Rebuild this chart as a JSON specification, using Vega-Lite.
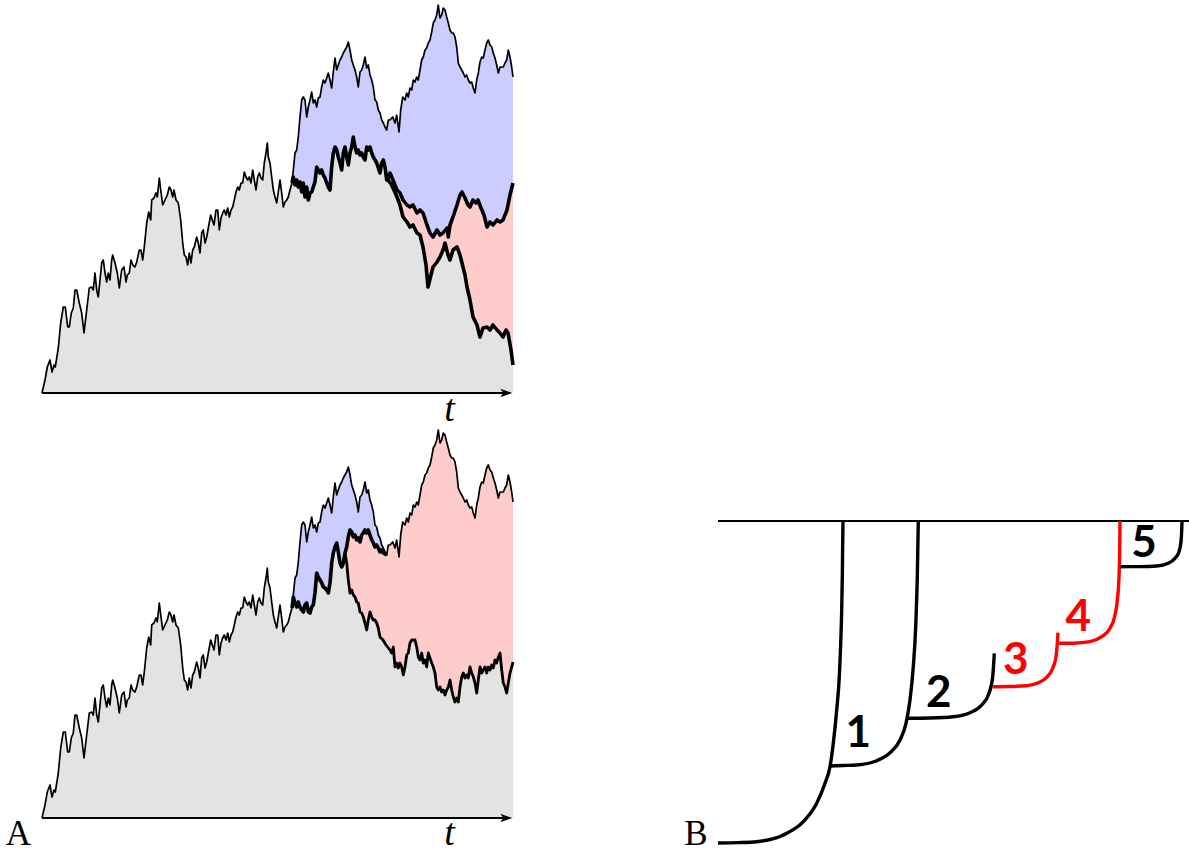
{
  "$schema": "https://vega.github.io/schema/vega-lite/v6.json",
  "width": 1189,
  "height": 854,
  "autosize": {"type": "none"},
  "padding": 0,
  "background": "white",
  "config": {"view": {"stroke": null}},
  "datasets": {
    "p0": [
      {"t":0,"w":0},{"t":3,"w":13},{"t":5.3,"w":26},{"t":8,"w":33},{"t":10,"w":21},{"t":12,"w":28},{"t":13.3,"w":26},{"t":16.3,"w":45},{"t":18.7,"w":70},{"t":21.3,"w":86},
      {"t":23.3,"w":86},{"t":25.7,"w":66},{"t":27.3,"w":66},{"t":29.3,"w":80},{"t":31.3,"w":85},{"t":33,"w":103},{"t":34.7,"w":103},{"t":37.3,"w":90},{"t":39.7,"w":80},{"t":42,"w":60},
      {"t":44.7,"w":83},{"t":47.3,"w":105},{"t":49.7,"w":106},{"t":51.3,"w":103},{"t":53,"w":120},{"t":54.7,"w":103},{"t":56.3,"w":96},{"t":58,"w":113},{"t":59.7,"w":130},{"t":61.3,"w":133},
      {"t":63,"w":120},{"t":64.7,"w":111},{"t":66.3,"w":120},{"t":68,"w":113},{"t":69.7,"w":133},{"t":70.7,"w":138},{"t":73,"w":130},{"t":75.3,"w":120},{"t":77.3,"w":105},{"t":79.7,"w":123},
      {"t":82,"w":126},{"t":84,"w":111},{"t":85.3,"w":118},{"t":87.3,"w":120},{"t":89,"w":133},{"t":90.7,"w":128},{"t":93,"w":126},{"t":94.7,"w":131},{"t":97.3,"w":143},{"t":99,"w":143},
      {"t":100.7,"w":133},{"t":102.3,"w":146},{"t":104.7,"w":170},{"t":106.7,"w":181},{"t":108.7,"w":173},{"t":109.7,"w":193},{"t":112,"w":195},{"t":114,"w":200},{"t":115.3,"w":196},{"t":117.3,"w":215},
      {"t":119,"w":201},{"t":120.7,"w":188},{"t":123,"w":193},{"t":125.3,"w":198},{"t":127.3,"w":206},{"t":129,"w":203},{"t":130.7,"w":196},{"t":132,"w":203},{"t":134,"w":193},{"t":136.3,"w":190},
      {"t":138.7,"w":173},{"t":140.7,"w":150},{"t":142.3,"w":138},{"t":144,"w":136},{"t":145.7,"w":128},{"t":147.3,"w":140},{"t":149,"w":130},{"t":150.7,"w":143},{"t":152.3,"w":146},{"t":154.7,"w":156},
      {"t":156.3,"w":150},{"t":158,"w":140},{"t":159.7,"w":160},{"t":161.3,"w":163},{"t":163,"w":150},{"t":164.7,"w":156},{"t":166.3,"w":165},{"t":168.7,"w":178},{"t":170.3,"w":173},{"t":172,"w":168},
      {"t":174,"w":183},{"t":175.7,"w":183},{"t":177.3,"w":163},{"t":179,"w":175},{"t":180.7,"w":180},{"t":182.3,"w":183},{"t":184,"w":178},{"t":185.7,"w":185},{"t":187.3,"w":176},{"t":189,"w":183},
      {"t":190.7,"w":186},{"t":192.3,"w":193},{"t":194,"w":201},{"t":195.7,"w":206},{"t":197.3,"w":203},{"t":199,"w":210},{"t":200.7,"w":210},{"t":202.3,"w":221},{"t":204,"w":216},{"t":205.7,"w":213},
      {"t":207.3,"w":216},{"t":209,"w":210},{"t":210.7,"w":223},{"t":212.3,"w":213},{"t":214,"w":203},{"t":215.7,"w":216},{"t":217.3,"w":220},{"t":219,"w":215},{"t":220.7,"w":213},{"t":222.3,"w":230},
      {"t":224,"w":240},{"t":225.3,"w":250},{"t":226.3,"w":236},{"t":228,"w":230},{"t":229.7,"w":216},{"t":231.3,"w":203},{"t":233,"w":196},{"t":234.7,"w":190},{"t":236.3,"w":201},{"t":238,"w":213},
      {"t":239.7,"w":200},{"t":241.3,"w":186},{"t":243,"w":191},{"t":244.7,"w":193},{"t":246.3,"w":196},{"t":248,"w":203},{"t":250,"w":210}
    ],
    "up": [
      {"t":250,"w":210},{"t":251.3,"w":223},{"t":253,"w":240},{"t":254.7,"w":243},{"t":256.3,"w":256},{"t":258,"w":276},{"t":259.7,"w":293},{"t":261.3,"w":296},{"t":263,"w":293},{"t":264.7,"w":276},
      {"t":266.3,"w":286},{"t":268,"w":293},{"t":269.7,"w":301},{"t":271.3,"w":290},{"t":273,"w":293},{"t":274.7,"w":286},{"t":276.3,"w":295},{"t":278,"w":296},{"t":279.7,"w":306},{"t":281.3,"w":313},
      {"t":283,"w":310},{"t":284.7,"w":315},{"t":286.3,"w":320},{"t":288,"w":313},{"t":289.7,"w":305},{"t":291.3,"w":321},{"t":293,"w":335},{"t":294.7,"w":323},{"t":296.3,"w":328},{"t":298,"w":333},
      {"t":299.7,"w":336},{"t":301.3,"w":340},{"t":303,"w":343},{"t":304.7,"w":346},{"t":306.3,"w":351},{"t":308,"w":343},{"t":309.7,"w":333},{"t":311.3,"w":328},{"t":313,"w":323},{"t":314.7,"w":316},
      {"t":316.3,"w":306},{"t":318,"w":321},{"t":319.7,"w":323},{"t":321.3,"w":328},{"t":323,"w":336},{"t":324.7,"w":325},{"t":326.3,"w":328},{"t":328,"w":318},{"t":329.7,"w":313},{"t":331.3,"w":306},
      {"t":333,"w":293},{"t":334.7,"w":291},{"t":336.3,"w":283},{"t":338,"w":280},{"t":339.7,"w":273},{"t":341.3,"w":270},{"t":343,"w":266},{"t":344.7,"w":263},{"t":346.3,"w":273},{"t":348,"w":273},
      {"t":350.7,"w":276},{"t":353,"w":270},{"t":354.7,"w":278},{"t":357,"w":261},{"t":358.7,"w":283},{"t":360.7,"w":296},{"t":363,"w":293},{"t":364.7,"w":300},{"t":366.3,"w":296},{"t":368,"w":305},
      {"t":369.7,"w":303},{"t":371.3,"w":313},{"t":373,"w":311},{"t":374.7,"w":316},{"t":376.3,"w":313},{"t":378,"w":323},{"t":379.7,"w":333},{"t":381.3,"w":336},{"t":383,"w":343},{"t":384.7,"w":345},
      {"t":386.3,"w":350},{"t":388,"w":353},{"t":389.7,"w":361},{"t":391.3,"w":370},{"t":393,"w":373},{"t":394.7,"w":378},{"t":396.3,"w":388},{"t":398,"w":375},{"t":399.7,"w":378},{"t":401.3,"w":385},
      {"t":403,"w":383},{"t":404.7,"w":376},{"t":406.3,"w":370},{"t":408,"w":363},{"t":409.7,"w":360},{"t":411.3,"w":360},{"t":413,"w":356},{"t":414.7,"w":346},{"t":416.3,"w":330},{"t":418,"w":326},
      {"t":419.7,"w":323},{"t":421.3,"w":320},{"t":423,"w":316},{"t":424.7,"w":318},{"t":426.3,"w":313},{"t":428,"w":310},{"t":429.7,"w":311},{"t":431.3,"w":305},{"t":433,"w":300},{"t":434.7,"w":313},
      {"t":436.3,"w":320},{"t":438,"w":331},{"t":439.7,"w":336},{"t":441.3,"w":335},{"t":443,"w":343},{"t":444.7,"w":350},{"t":446.3,"w":353},{"t":448,"w":348},{"t":449.7,"w":346},{"t":451.3,"w":340},
      {"t":453,"w":335},{"t":454.7,"w":328},{"t":456.3,"w":320},{"t":458,"w":326},{"t":459.7,"w":326},{"t":461.3,"w":326},{"t":463,"w":330},{"t":464.7,"w":333},{"t":466.3,"w":343},{"t":468,"w":336},
      {"t":469.7,"w":326},{"t":471,"w":316}
    ],
    "mid": [
      {"t":250,"w":210},{"t":251.3,"w":216},{"t":253,"w":208},{"t":254.7,"w":213},{"t":256.3,"w":206},{"t":258,"w":211},{"t":259.7,"w":201},{"t":261.3,"w":210},{"t":263,"w":196},{"t":264.7,"w":206},
      {"t":266.3,"w":193},{"t":268,"w":200},{"t":269.7,"w":201},{"t":271.3,"w":206},{"t":273,"w":211},{"t":274.7,"w":226},{"t":276.3,"w":223},{"t":278,"w":220},{"t":279.7,"w":223},{"t":281.3,"w":218},
      {"t":283,"w":215},{"t":284.7,"w":210},{"t":286.3,"w":206},{"t":288,"w":203},{"t":289.7,"w":226},{"t":291.3,"w":240},{"t":293,"w":246},{"t":294.7,"w":243},{"t":296.3,"w":236},{"t":298,"w":230},
      {"t":299.7,"w":223},{"t":301.3,"w":240},{"t":303,"w":246},{"t":304.7,"w":236},{"t":306.3,"w":228},{"t":308,"w":240},{"t":309.7,"w":246},{"t":311.3,"w":256},{"t":313,"w":246},{"t":314.7,"w":240},
      {"t":316.3,"w":243},{"t":318,"w":238},{"t":319.7,"w":240},{"t":321.3,"w":236},{"t":323,"w":233},{"t":324.7,"w":246},{"t":326.3,"w":243},{"t":328,"w":246},{"t":329.7,"w":240},{"t":331.3,"w":236},
      {"t":333,"w":233},{"t":334.7,"w":230},{"t":336.3,"w":225},{"t":338,"w":220},{"t":339.7,"w":230},{"t":341.3,"w":233},{"t":343,"w":226},{"t":344.7,"w":213},{"t":346,"w":213},{"t":348,"w":220},
      {"t":351,"w":213},{"t":355,"w":203},{"t":358,"w":200},{"t":361,"w":193},{"t":365,"w":188},{"t":368,"w":186},{"t":371,"w":188},{"t":375,"w":180},{"t":378,"w":183},{"t":381,"w":180},
      {"t":385,"w":168},{"t":388,"w":160},{"t":391,"w":156},{"t":395,"w":163},{"t":398,"w":158},{"t":401,"w":160},{"t":405,"w":165},{"t":406.3,"w":156},{"t":408,"w":168},{"t":411,"w":176},
      {"t":415,"w":188},{"t":418,"w":198},{"t":420,"w":201},{"t":423,"w":195},{"t":426,"w":188},{"t":428,"w":186},{"t":431,"w":193},{"t":434,"w":190},{"t":436,"w":193},{"t":439,"w":185},
      {"t":442,"w":178},{"t":445,"w":166},{"t":448,"w":171},{"t":451,"w":168},{"t":455,"w":173},{"t":458,"w":171},{"t":461,"w":173},{"t":465,"w":183},{"t":468,"w":198},{"t":471,"w":210}
    ],
    "low": [
      {"t":346,"w":213},{"t":349,"w":209},{"t":351,"w":205},{"t":355,"w":196},{"t":358,"w":188},{"t":361,"w":176},{"t":365,"w":171},{"t":368,"w":166},{"t":371,"w":168},{"t":375,"w":160},
      {"t":378,"w":158},{"t":381,"w":146},{"t":384,"w":128},{"t":386,"w":106},{"t":389,"w":118},{"t":391,"w":126},{"t":395,"w":131},{"t":398,"w":136},{"t":401,"w":143},{"t":403,"w":150},
      {"t":406,"w":138},{"t":408,"w":133},{"t":411,"w":143},{"t":415,"w":146},{"t":418,"w":138},{"t":420,"w":130},{"t":423,"w":118},{"t":425,"w":106},{"t":428,"w":93},{"t":431,"w":76},
      {"t":435,"w":68},{"t":438,"w":56},{"t":441,"w":65},{"t":445,"w":66},{"t":448,"w":63},{"t":451,"w":68},{"t":455,"w":63},{"t":458,"w":60},{"t":461,"w":56},{"t":464,"w":63},
      {"t":466,"w":60},{"t":469,"w":43},{"t":471,"w":28}
    ],
    "nb": [
      {"t":250,"w":210},{"t":251.3,"w":221},{"t":253,"w":215},{"t":254.7,"w":211},{"t":256.3,"w":216},{"t":258,"w":211},{"t":259.7,"w":208},{"t":261.3,"w":206},{"t":263,"w":213},{"t":264.7,"w":215},
      {"t":266.3,"w":206},{"t":268,"w":205},{"t":269.7,"w":211},{"t":271.3,"w":213},{"t":273,"w":225},{"t":274.7,"w":245},{"t":276.3,"w":241},{"t":278,"w":238},{"t":279.7,"w":235},{"t":281.3,"w":231},
      {"t":283,"w":230},{"t":284.7,"w":228},{"t":286.3,"w":225},{"t":288,"w":235},{"t":289.7,"w":255},{"t":291.3,"w":265},{"t":293,"w":271},{"t":294.7,"w":275},{"t":296.3,"w":266},{"t":298,"w":255},
      {"t":299.7,"w":251},{"t":301.3,"w":255},{"t":303,"w":265},{"t":304.7,"w":271},{"t":306.3,"w":281},{"t":308,"w":288},{"t":309.7,"w":286},{"t":311.3,"w":281},{"t":313,"w":283},{"t":314.7,"w":278},
      {"t":316.3,"w":280},{"t":318,"w":276},{"t":319.7,"w":283},{"t":321.3,"w":285},{"t":323,"w":288},{"t":324.7,"w":285},{"t":326.3,"w":288},{"t":328,"w":283},{"t":329.7,"w":278},{"t":331.3,"w":275},
      {"t":333,"w":271},{"t":334.7,"w":273},{"t":336.3,"w":270},{"t":338,"w":266},{"t":339.7,"w":268},{"t":341.3,"w":265},{"t":343,"w":264},{"t":344.7,"w":263}
    ],
    "lb": [
      {"t":303,"w":265},{"t":304.7,"w":255},{"t":306.3,"w":238},{"t":308,"w":225},{"t":309.7,"w":228},{"t":311.3,"w":223},{"t":313,"w":221},{"t":314.7,"w":216},{"t":316.3,"w":215},{"t":318,"w":206},
      {"t":319.7,"w":205},{"t":321.3,"w":201},{"t":323,"w":195},{"t":324.7,"w":188},{"t":326.3,"w":198},{"t":328,"w":206},{"t":329.7,"w":201},{"t":331.3,"w":198},{"t":333,"w":198},{"t":334.7,"w":195},
      {"t":336.3,"w":190},{"t":338,"w":181},{"t":341,"w":178},{"t":344,"w":173},{"t":348,"w":168},{"t":349.7,"w":165},{"t":351.3,"w":171},{"t":353,"w":151},{"t":354.7,"w":155},{"t":356.3,"w":150},
      {"t":358,"w":155},{"t":359.7,"w":151},{"t":361.3,"w":143},{"t":363,"w":151},{"t":364.7,"w":163},{"t":366.3,"w":165},{"t":368,"w":175},{"t":369.7,"w":178},{"t":371.3,"w":178},{"t":373,"w":178},
      {"t":374.7,"w":171},{"t":376.3,"w":161},{"t":378,"w":158},{"t":379.7,"w":165},{"t":381.3,"w":155},{"t":383,"w":158},{"t":384.7,"w":151},{"t":386.3,"w":165},{"t":388,"w":160},{"t":389.7,"w":155},
      {"t":391.3,"w":151},{"t":393,"w":145},{"t":394.7,"w":131},{"t":396.3,"w":128},{"t":398,"w":131},{"t":399.7,"w":126},{"t":401.3,"w":128},{"t":403,"w":123},{"t":404.7,"w":128},{"t":406.3,"w":131},
      {"t":408,"w":138},{"t":409.7,"w":128},{"t":411.3,"w":121},{"t":413,"w":116},{"t":414.7,"w":120},{"t":416.3,"w":116},{"t":418,"w":131},{"t":419.7,"w":141},{"t":421.3,"w":145},{"t":423,"w":140},
      {"t":424.7,"w":143},{"t":426.3,"w":140},{"t":428,"w":151},{"t":429.7,"w":145},{"t":431.3,"w":141},{"t":433,"w":135},{"t":434.7,"w":125},{"t":436.3,"w":138},{"t":438,"w":151},{"t":439.7,"w":145},
      {"t":441.3,"w":148},{"t":443,"w":151},{"t":444.7,"w":145},{"t":446.3,"w":151},{"t":448,"w":148},{"t":449.7,"w":153},{"t":451.3,"w":150},{"t":453,"w":158},{"t":454.7,"w":155},{"t":456.3,"w":161},
      {"t":458,"w":165},{"t":459.7,"w":148},{"t":461.3,"w":135},{"t":463,"w":131},{"t":464.7,"w":125},{"t":466.3,"w":135},{"t":468,"w":145},{"t":469.7,"w":151},{"t":471,"w":156}
    ],
    "tree": [
      {"seg":"0","u":0,"h":0},{"seg":"0","u":20,"h":0.4},{"seg":"0","u":38.7,"h":1.3},{"seg":"0","u":65.3,"h":8},{"seg":"0","u":85.3,"h":21.3},{"seg":"0","u":98.7,"h":39.7},{"seg":"0","u":107,"h":59.7},{"seg":"0","u":112,"h":76.3},{"seg":"0","u":115.3,"h":99.7},{"seg":"0","u":118.7,"h":133},{"seg":"0","u":121.3,"h":166.3},{"seg":"0","u":122.7,"h":199.7},{"seg":"0","u":123.7,"h":233},{"seg":"0","u":124.3,"h":266.3},{"seg":"0","u":124.7,"h":299.7},{"seg":"0","u":125,"h":322},
      {"seg":"1","u":112,"h":77},{"seg":"1","u":125,"h":77.5},{"seg":"1","u":138.7,"h":78},{"seg":"1","u":158.7,"h":82.3},{"seg":"1","u":172,"h":90.3},{"seg":"1","u":182,"h":103},{"seg":"1","u":188,"h":119.7},{"seg":"1","u":192,"h":143},{"seg":"1","u":195.3,"h":176.3},{"seg":"1","u":197.7,"h":216.3},{"seg":"1","u":199.3,"h":266.3},{"seg":"1","u":200.3,"h":322},
      {"seg":"2","u":189,"h":124.7},{"seg":"2","u":212,"h":125},{"seg":"2","u":235.3,"h":126.3},{"seg":"2","u":252,"h":130.3},{"seg":"2","u":263.7,"h":138},{"seg":"2","u":271,"h":149.7},{"seg":"2","u":274.7,"h":166.3},{"seg":"2","u":276.3,"h":189.7},
      {"seg":"3","u":275,"h":156.3},{"seg":"3","u":292,"h":156.5},{"seg":"3","u":308.7,"h":157.3},{"seg":"3","u":320.3,"h":160.3},{"seg":"3","u":328.7,"h":165.7},{"seg":"3","u":334.7,"h":174.7},{"seg":"3","u":338,"h":186.3},{"seg":"3","u":339.3,"h":199.7},{"seg":"3","u":340,"h":210.3},
      {"seg":"4","u":339.5,"h":199.7},{"seg":"4","u":355.3,"h":199.8},{"seg":"4","u":372,"h":201.3},{"seg":"4","u":383.7,"h":206.3},{"seg":"4","u":392,"h":214.7},{"seg":"4","u":397,"h":228},{"seg":"4","u":399.7,"h":246.3},{"seg":"4","u":401,"h":266.3},{"seg":"4","u":401.7,"h":293},{"seg":"4","u":402,"h":322},
      {"seg":"5","u":402,"h":276.3},{"seg":"5","u":422,"h":276.4},{"seg":"5","u":438.7,"h":277},{"seg":"5","u":450.3,"h":279.7},{"seg":"5","u":457,"h":284.7},{"seg":"5","u":461,"h":291.3},{"seg":"5","u":463,"h":301.3},{"seg":"5","u":463.7,"h":313},{"seg":"5","u":464,"h":322}
    ],
    "tags": [
      {"seg":"1","u":140.3,"h":95.7},
      {"seg":"2","u":220.7,"h":135.7},
      {"seg":"3","u":297.7,"h":169},
      {"seg":"4","u":360.3,"h":212.3},
      {"seg":"5","u":426,"h":285.7}
    ]
  },
  "layer": [
    {
      "layer": [
        {
          "encoding": {
            "x": {"field": "t", "type": "quantitative", "scale": {"domain": [-42, 1147], "nice": false, "zero": false}, "axis": null},
            "y": {"field": "w", "type": "quantitative", "scale": {"domain": [-461, 393], "nice": false, "zero": false}, "axis": null}
          },
          "layer": [
            {"data": {"name": "up"}, "mark": {"type": "area", "color": "#ccccff"}, "encoding": {"y2": {"datum": 0}}},
            {"data": {"name": "mid"}, "transform": [{"filter": "datum.t >= 346"}], "mark": {"type": "area", "color": "#ffcccc"}, "encoding": {"y2": {"datum": 0}}},
            {"data": {"name": "p0"}, "mark": {"type": "area", "color": "#e3e3e3"}, "encoding": {"y2": {"datum": 0}}},
            {"data": {"name": "mid"}, "transform": [{"filter": "datum.t <= 346"}], "mark": {"type": "area", "color": "#e3e3e3"}, "encoding": {"y2": {"datum": 0}}},
            {"data": {"name": "low"}, "mark": {"type": "area", "color": "#e3e3e3"}, "encoding": {"y2": {"datum": 0}}},
            {"data": {"name": "p0"}, "mark": {"type": "line", "color": "black", "strokeWidth": 1.7, "strokeJoin": "round"}},
            {"data": {"name": "up"}, "mark": {"type": "line", "color": "black", "strokeWidth": 1.7, "strokeJoin": "round"}},
            {"data": {"name": "mid"}, "mark": {"type": "line", "color": "black", "strokeWidth": 3.6, "strokeJoin": "round"}},
            {"data": {"name": "low"}, "mark": {"type": "line", "color": "black", "strokeWidth": 3.6, "strokeJoin": "round"}},
            {"data": {"values": [{"t": 0, "t2": 466, "w": 0}]}, "mark": {"type": "rule", "color": "black", "strokeWidth": 1.8}, "encoding": {"x2": {"field": "t2"}}},
            {"data": {"values": [{"t": 464.3, "w": 0}]}, "mark": {"type": "point", "filled": true, "color": "black", "opacity": 1, "size": 144, "shape": "M 1 0 L -1 -0.7 L -0.5 0 L -1 0.7 Z"}}
          ]
        },
        {
          "data": {"values": [{"label": "t"}]},
          "mark": {"type": "text", "font": "Liberation Serif", "fontStyle": "italic", "fontSize": 38, "align": "center", "baseline": "alphabetic", "color": "black"},
          "encoding": {
            "x": {"datum": 407.5, "type": "quantitative", "scale": {"domain": [-42, 1147], "nice": false, "zero": false}, "axis": null},
            "y": {"datum": -28, "type": "quantitative", "scale": {"domain": [-461, 393], "nice": false, "zero": false}, "axis": null},
            "text": {"field": "label"}
          }
        }
      ]
    },
    {
      "layer": [
        {
          "encoding": {
            "x": {"field": "t", "type": "quantitative", "scale": {"domain": [-42, 1147], "nice": false, "zero": false}, "axis": null},
            "y": {"field": "w", "type": "quantitative", "scale": {"domain": [-36, 818], "nice": false, "zero": false}, "axis": null}
          },
          "layer": [
            {"data": {"name": "up"}, "transform": [{"filter": "datum.t <= 344.7"}], "mark": {"type": "area", "color": "#ccccff"}, "encoding": {"y2": {"datum": 0}}},
            {"data": {"name": "up"}, "transform": [{"filter": "datum.t >= 344.7"}], "mark": {"type": "area", "color": "#ffcccc"}, "encoding": {"y2": {"datum": 0}}},
            {"data": {"name": "nb"}, "transform": [{"filter": "datum.t >= 303"}], "mark": {"type": "area", "color": "#ffcccc"}, "encoding": {"y2": {"datum": 0}}},
            {"data": {"name": "p0"}, "mark": {"type": "area", "color": "#e3e3e3"}, "encoding": {"y2": {"datum": 0}}},
            {"data": {"name": "nb"}, "transform": [{"filter": "datum.t <= 303"}], "mark": {"type": "area", "color": "#e3e3e3"}, "encoding": {"y2": {"datum": 0}}},
            {"data": {"name": "lb"}, "mark": {"type": "area", "color": "#e3e3e3"}, "encoding": {"y2": {"datum": 0}}},
            {"data": {"name": "p0"}, "mark": {"type": "line", "color": "black", "strokeWidth": 1.7, "strokeJoin": "round"}},
            {"data": {"name": "up"}, "mark": {"type": "line", "color": "black", "strokeWidth": 1.7, "strokeJoin": "round"}},
            {"data": {"name": "nb"}, "mark": {"type": "line", "color": "black", "strokeWidth": 3.6, "strokeJoin": "round"}},
            {"data": {"name": "lb"}, "mark": {"type": "line", "color": "black", "strokeWidth": 2.8, "strokeJoin": "round"}},
            {"data": {"values": [{"t": 0, "t2": 466, "w": 0}]}, "mark": {"type": "rule", "color": "black", "strokeWidth": 1.8}, "encoding": {"x2": {"field": "t2"}}},
            {"data": {"values": [{"t": 464.3, "w": 0}]}, "mark": {"type": "point", "filled": true, "color": "black", "opacity": 1, "size": 144, "shape": "M 1 0 L -1 -0.7 L -0.5 0 L -1 0.7 Z"}}
          ]
        },
        {
          "data": {"values": [{"label": "t"}]},
          "mark": {"type": "text", "font": "Liberation Serif", "fontStyle": "italic", "fontSize": 38, "align": "center", "baseline": "alphabetic", "color": "black"},
          "encoding": {
            "x": {"datum": 407.5, "type": "quantitative", "scale": {"domain": [-42, 1147], "nice": false, "zero": false}, "axis": null},
            "y": {"datum": -27, "type": "quantitative", "scale": {"domain": [-36, 818], "nice": false, "zero": false}, "axis": null},
            "text": {"field": "label"}
          }
        },
        {
          "data": {"values": [{"label": "A"}]},
          "mark": {"type": "text", "font": "Liberation Serif", "fontSize": 35, "align": "center", "baseline": "alphabetic", "color": "black"},
          "encoding": {
            "x": {"datum": -23.7, "type": "quantitative", "scale": {"domain": [-42, 1147], "nice": false, "zero": false}, "axis": null},
            "y": {"datum": -27, "type": "quantitative", "scale": {"domain": [-36, 818], "nice": false, "zero": false}, "axis": null},
            "text": {"field": "label"}
          }
        }
      ]
    },
    {
      "layer": [
        {
          "encoding": {
            "x": {"field": "u", "type": "quantitative", "scale": {"domain": [-718, 471], "nice": false, "zero": false}, "axis": null},
            "y": {"field": "h", "type": "quantitative", "scale": {"domain": [-11, 843], "nice": false, "zero": false}, "axis": null}
          },
          "layer": [
            {"data": {"values": [{"u": 0, "u2": 471, "h": 322}]}, "mark": {"type": "rule", "color": "black", "strokeWidth": 1.8}, "encoding": {"x2": {"field": "u2"}}},
            {
              "data": {"name": "tree"},
              "mark": {"type": "line", "strokeWidth": 3.4, "interpolate": "monotone", "strokeCap": "butt"},
              "encoding": {
                "color": {"field": "seg", "type": "nominal", "scale": {"domain": ["0", "1", "2", "3", "4", "5"], "range": ["#000000", "#000000", "#000000", "#ff0000", "#ff0000", "#000000"]}, "legend": null}
              }
            },
            {
              "data": {"name": "tags"},
              "mark": {"type": "text", "font": "Lato", "fontWeight": "bold", "fontSize": 44, "align": "center", "baseline": "alphabetic"},
              "encoding": {
                "text": {"field": "seg"},
                "color": {"field": "seg", "type": "nominal", "scale": {"domain": ["0", "1", "2", "3", "4", "5"], "range": ["#000000", "#000000", "#000000", "#ff0000", "#ff0000", "#000000"]}, "legend": null}
              }
            }
          ]
        },
        {
          "data": {"values": [{"label": "B"}]},
          "mark": {"type": "text", "font": "Liberation Serif", "fontSize": 35, "align": "center", "baseline": "alphabetic", "color": "black"},
          "encoding": {
            "x": {"datum": -22, "type": "quantitative", "scale": {"domain": [-718, 471], "nice": false, "zero": false}, "axis": null},
            "y": {"datum": -2, "type": "quantitative", "scale": {"domain": [-11, 843], "nice": false, "zero": false}, "axis": null},
            "text": {"field": "label"}
          }
        }
      ]
    }
  ],
  "resolve": {"scale": {"x": "independent", "y": "independent"}}
}
